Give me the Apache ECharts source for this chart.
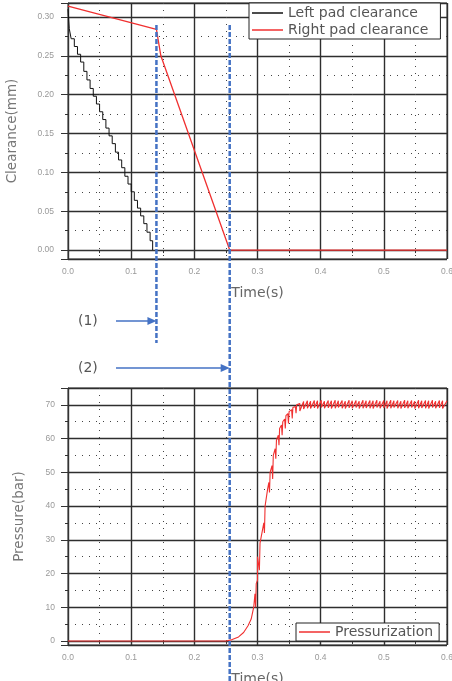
<!DOCTYPE html>
<html>
<head>
<meta charset="utf-8">
<script src="https://cdn.jsdelivr.net/npm/echarts@6/dist/echarts.min.js"></script>
<style>
html, body { margin: 0; padding: 0; background: #fff; }
#chart { width: 452px; height: 681px; }
</style>
</head>
<body>
<div id="chart"></div>
<script>
// clearance of the left pad (mm), staircase
var leftTime  = [0, 0.002, 0.005, 0.010, 0.015, 0.020, 0.025, 0.030, 0.035, 0.040, 0.045, 0.050, 0.055, 0.060, 0.065,
                 0.070, 0.075, 0.080, 0.085, 0.090, 0.095, 0.100, 0.105, 0.110, 0.115, 0.120, 0.125, 0.130, 0.134];
var leftClear = [0.310, 0.285, 0.272, 0.262, 0.252, 0.242, 0.230, 0.219, 0.208, 0.198, 0.188, 0.178, 0.168, 0.157, 0.147,
                 0.137, 0.126, 0.116, 0.106, 0.095, 0.085, 0.075, 0.064, 0.054, 0.044, 0.034, 0.023, 0.012, 0.000];
// clearance of the right pad (mm)
var rightTime  = [0, 0.140, 0.147, 0.256, 0.600];
var rightClear = [0.314, 0.284, 0.250, 0.000, 0.000];
// brake pressure (bar)
var pressTime = [0, 0.250, 0.260, 0.270, 0.278, 0.285, 0.290, 0.293, 0.294, 0.296, 0.297, 0.298, 0.300, 0.300, 0.302,
                 0.303, 0.304, 0.307, 0.308, 0.310, 0.311, 0.312, 0.315, 0.316, 0.318, 0.319, 0.320, 0.323, 0.324,
                 0.325, 0.328, 0.329, 0.330, 0.333, 0.334, 0.335, 0.338, 0.339, 0.340, 0.343, 0.344, 0.345, 0.348,
                 0.349, 0.350, 0.354, 0.355, 0.356, 0.360, 0.361, 0.362, 0.367, 0.367,
                 0.373, 0.373, 0.379, 0.379, 0.384, 0.384, 0.390, 0.390, 0.395, 0.395, 0.401, 0.401, 0.406, 0.406,
                 0.412, 0.412, 0.417, 0.417, 0.423, 0.423, 0.428, 0.428, 0.434, 0.434, 0.439, 0.439, 0.445, 0.445,
                 0.450, 0.450, 0.456, 0.456, 0.461, 0.461, 0.467, 0.467, 0.472, 0.472, 0.478, 0.478, 0.483, 0.483,
                 0.489, 0.489, 0.494, 0.494, 0.500, 0.500, 0.505, 0.505, 0.511, 0.511, 0.516, 0.516, 0.522, 0.522,
                 0.527, 0.527, 0.533, 0.533, 0.538, 0.538, 0.544, 0.544, 0.549, 0.549, 0.555, 0.555, 0.560, 0.560,
                 0.566, 0.566, 0.571, 0.571, 0.577, 0.577, 0.582, 0.582, 0.588, 0.588, 0.593, 0.593, 0.600];
var pressVal  = [0, 0, 0.4, 1.2, 2.5, 4.5, 6.5, 7, 10, 14, 10, 17, 18, 25, 25,
                 21, 29, 29, 33, 35, 32, 40, 40, 45, 47, 44, 50, 52, 48,
                 55, 57, 54, 59.5, 61, 58, 63, 64, 61, 65, 65.8, 63, 66.8, 67.4,
                 64.5, 68, 68.6, 66, 69.2, 69.5, 67.5, 70, 70.4, 68.2,
                 71.0, 68.8, 71.2, 69.0, 71.1, 68.9, 71.3, 69.1, 71.2, 68.9, 71.4, 69.2, 71.1, 69.0,
                 71.3, 69.1, 71.2, 68.9, 71.4, 69.0, 71.2, 69.2, 71.3, 69.0, 71.1, 68.9, 71.4, 69.1,
                 71.2, 69.0, 71.3, 69.2, 71.1, 68.9, 71.4, 69.0, 71.2, 69.1, 71.3, 69.0, 71.2, 68.9,
                 71.4, 69.2, 71.1, 69.0, 71.3, 69.1, 71.2, 68.9, 71.4, 69.0, 71.2, 69.2, 71.3, 69.0,
                 71.1, 68.9, 71.4, 69.1, 71.2, 69.0, 71.3, 69.2, 71.1, 68.9, 71.4, 69.0, 71.2, 69.1,
                 71.3, 69.0, 71.2, 68.9, 71.4, 69.2, 71.1, 69.0, 71.3, 69.1, 71.2, 68.9, 71.2];
// event times marked by the dashed lines
var mark1 = 0.140;
var mark2 = 0.256;

function zip(a, b) {
    var out = [];
    for (var i = 0; i < a.length; i++) out.push([a[i], b[i]]);
    return out;
}

var chart = echarts.init(document.getElementById('chart'));
var labelFont = 'Liberation Sans';
var gridColor = '#2e2e2e';

function xAxis(idx, nameGap) {
    return {
        type: 'value', gridIndex: idx, min: 0, max: 0.6, interval: 0.1,
        name: 'Time(s)', nameLocation: 'middle', nameGap: nameGap,
        nameTextStyle: { color: '#666', fontSize: 14, fontFamily: 'DejaVu Sans' },
        axisLine: { lineStyle: { color: '#333' } },
        axisTick: { length: 4, lineStyle: { color: '#333' } },
        minorTick: { show: true, splitNumber: 2, length: 3, lineStyle: { color: '#333' } },
        axisLabel: { color: '#999', fontSize: 8.5, fontFamily: labelFont, margin: 8,
            formatter: function (v) { return v.toFixed(1); } },
        splitLine: { show: true, lineStyle: { color: gridColor, width: 1.4 } },
        minorSplitLine: { show: true, lineStyle: { color: '#444', width: 1, type: [1, 6] } }
    };
}

var legendText = { color: '#555', fontSize: 14, fontFamily: 'DejaVu Sans' };

var option = {
    animation: false,
    backgroundColor: '#fff',
    grid: [
        { left: 68, top: 3, width: 379, height: 256, show: true, borderColor: '#333', borderWidth: 1,
          outerBoundsMode: 'none' },
        { left: 68, top: 388, width: 379, height: 257, show: true, borderColor: '#333', borderWidth: 1,
          outerBoundsMode: 'none' }
    ],
    legend: [
        {
            data: ['Left pad clearance', 'Right pad clearance'],
            orient: 'vertical', left: 249, top: 3,
            padding: [3, 12, 2, 3], itemGap: 3, itemWidth: 31, itemHeight: 1.5, icon: 'rect',
            backgroundColor: '#fff', borderColor: '#222', borderWidth: 1,
            textStyle: legendText
        },
        {
            data: ['Pressurization'],
            orient: 'vertical', left: 296, top: 623,
            padding: [2, 6, 2, 3], itemWidth: 31, itemHeight: 1.5, icon: 'rect',
            backgroundColor: '#fff', borderColor: '#222', borderWidth: 1,
            textStyle: legendText
        }
    ],
    xAxis: [xAxis(0, 27), xAxis(1, 27)],
    yAxis: [
        {
            type: 'value', gridIndex: 0, min: -0.0115, max: 0.318, splitNumber: 6,
            name: 'Clearance(mm)', nameLocation: 'middle', nameGap: 49,
            nameTextStyle: { color: '#777', fontSize: 13.5, fontFamily: 'DejaVu Sans' },
            axisLine: { show: true, lineStyle: { color: '#333' } },
            axisTick: { show: true, length: 7, lineStyle: { color: '#333' } },
            minorTick: { show: true, splitNumber: 2, length: 3, lineStyle: { color: '#333' } },
            axisLabel: { color: '#999', fontSize: 8.5, fontFamily: labelFont, margin: 14,
                showMinLabel: false, showMaxLabel: false,
                formatter: function (v) { return v.toFixed(2); } },
            splitLine: { show: true, lineStyle: { color: gridColor, width: 1.4 } },
            minorSplitLine: { show: true, lineStyle: { color: '#444', width: 1, type: [1, 6] } }
        },
        {
            type: 'value', gridIndex: 1, min: -1.2, max: 75, splitNumber: 7,
            name: 'Pressure(bar)', nameLocation: 'middle', nameGap: 42,
            nameTextStyle: { color: '#777', fontSize: 13.5, fontFamily: 'DejaVu Sans' },
            axisLine: { show: true, lineStyle: { color: '#333' } },
            axisTick: { show: true, length: 7, lineStyle: { color: '#333' } },
            minorTick: { show: true, splitNumber: 2, length: 3, lineStyle: { color: '#333' } },
            axisLabel: { color: '#999', fontSize: 8.5, fontFamily: labelFont, margin: 13,
                showMinLabel: false, showMaxLabel: false },
            splitLine: { show: true, lineStyle: { color: gridColor, width: 1.4 } },
            minorSplitLine: { show: true, lineStyle: { color: '#444', width: 1, type: [1, 6] } }
        }
    ],
    series: [
        {
            name: 'Left pad clearance', type: 'line', xAxisIndex: 0, yAxisIndex: 0,
            step: 'end', symbol: 'none', data: zip(leftTime, leftClear),
            lineStyle: { color: '#111', width: 1 }, itemStyle: { color: '#111' }
        },
        {
            name: 'Right pad clearance', type: 'line', xAxisIndex: 0, yAxisIndex: 0,
            symbol: 'none', data: zip(rightTime, rightClear),
            lineStyle: { color: '#f03030', width: 1.3 }, itemStyle: { color: '#f03030' }
        },
        {
            name: 'Pressurization', type: 'line', xAxisIndex: 1, yAxisIndex: 1,
            symbol: 'none', data: zip(pressTime, pressVal),
            lineStyle: { color: '#f03030', width: 1.1 }, itemStyle: { color: '#f03030' }
        }
    ]
};
chart.setOption(option);

// dashed event lines and arrows, positioned through the x axis scale
var px1 = chart.convertToPixel({ xAxisIndex: 0 }, mark1);
var px2 = chart.convertToPixel({ xAxisIndex: 0 }, mark2);
var blue = '#4472c4';
var dash = { stroke: blue, lineWidth: 2.5, lineDash: [5, 2] };

function arrow(xEnd, y) {
    return [
        { type: 'line', shape: { x1: 116, y1: y, x2: xEnd - 8, y2: y }, style: { stroke: blue, lineWidth: 1.3 }, z: 100 },
        { type: 'polygon', shape: { points: [[xEnd - 9, y - 4], [xEnd, y], [xEnd - 9, y + 4]] }, style: { fill: blue }, z: 100 }
    ];
}

var graphics = [
    { type: 'line', shape: { x1: px1, y1: 25, x2: px1, y2: 343 }, style: dash, z: 100 },
    { type: 'line', shape: { x1: px2, y1: 25, x2: px2, y2: 681 }, style: dash, z: 100 },
    { type: 'text', x: 78, y: 321, style: { text: '(1)', fill: '#555', fontSize: 14, fontFamily: 'DejaVu Sans', verticalAlign: 'middle' }, z: 100 },
    { type: 'text', x: 78, y: 368, style: { text: '(2)', fill: '#555', fontSize: 14, fontFamily: 'DejaVu Sans', verticalAlign: 'middle' }, z: 100 }
].concat(arrow(px1, 321), arrow(px2, 368));

chart.setOption({ graphic: graphics });
</script>
</body>
</html>
